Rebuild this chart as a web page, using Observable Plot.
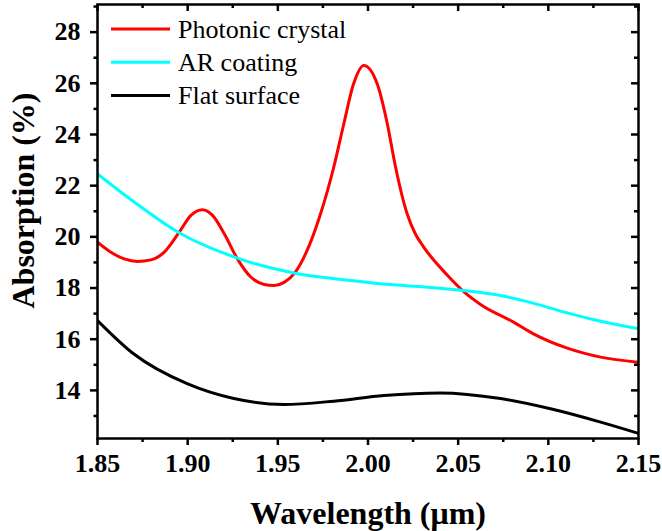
<!DOCTYPE html>
<html>
<head>
<meta charset="utf-8">
<script src="https://cdn.jsdelivr.net/npm/d3@7"></script>
<script src="https://cdn.jsdelivr.net/npm/@observablehq/plot@0.6"></script>
<style>
  html, body { margin: 0; padding: 0; background: #fff; }
  svg { display: block; }
  svg text { font-family: "Liberation Serif", "Times New Roman", serif; }
</style>
</head>
<body>
<div id="chart"></div>
<script>
// Series names and colours
const seriesNames = ["Photonic crystal", "AR coating", "Flat surface"];
const seriesColors = ["#ff0000", "#00ffff", "#000000"];

// Photonic crystal
const pcW = [1.85, 1.8574, 1.8648, 1.8722, 1.8796, 1.887, 1.8953, 1.9018, 1.9082, 1.9138, 1.9203, 1.9276, 1.935, 1.9424, 1.948, 1.9535, 1.9595, 1.9655, 1.9737, 1.981, 1.9866, 1.992, 1.9977, 2.0051, 2.0107, 2.0153, 2.0217, 2.026, 2.0309, 2.0439, 2.0531, 2.0624, 2.0809, 2.092, 2.1105, 2.129, 2.15];
const pcA = [19.79, 19.40, 19.14, 19.04, 19.10, 19.40, 20.18, 20.84, 21.06, 20.84, 20.12, 19.14, 18.43, 18.14, 18.10, 18.22, 18.6, 19.35, 20.9, 22.72, 24.42, 25.98, 26.70, 25.98, 24.42, 22.72, 20.9, 20.15, 19.6, 18.51, 17.86, 17.36, 16.66, 16.2, 15.65, 15.3, 15.1];

// AR coating
const arW = [1.85, 1.87, 1.895, 1.928, 1.961, 1.99, 2.007, 2.03, 2.053, 2.0735, 2.092, 2.1105, 2.129, 2.15];
const arA = [22.46, 21.38, 20.17, 19.16, 18.56, 18.3, 18.17, 18.05, 17.9, 17.71, 17.4, 17.03, 16.7, 16.41];

// Flat surface
const flW = [1.85, 1.87, 1.8997, 1.9256, 1.9533, 1.981, 2.0088, 2.04, 2.0735, 2.1012, 2.129, 2.15];
const flA = [16.73, 15.43, 14.26, 13.68, 13.45, 13.58, 13.8, 13.9, 13.68, 13.28, 12.76, 12.32];

// Axes
const xDomain = [1.85, 2.15];
const yDomain = [12.12, 29.08];
const xMajor = [1.85, 1.90, 1.95, 2.00, 2.05, 2.10, 2.15];
const xMinor = [1.875, 1.925, 1.975, 2.025, 2.075, 2.125];
const yMajor = [14, 16, 18, 20, 22, 24, 26, 28];
const yMinor = [13, 15, 17, 19, 21, 23, 25, 27, 29];
const xLabel = "Wavelength (μm)";
const yLabel = "Absorption (%)";

const rows = [];
[[pcW, pcA], [arW, arA], [flW, flA]].forEach(([w, a], s) => {
  w.forEach((x, i) => rows.push({series: seriesNames[s], w: x, a: a[i]}));
});

const W = 662, H = 531;
const mL = 97, mR = 24, mT = 4, mB = 93;
const ph = H - mT - mB, pw = W - mL - mR;
const serif = "Liberation Serif, Times New Roman, serif";

function legend(index, scales, values, dims) {
  const g = d3.create("svg:g");
  seriesNames.forEach((name, i) => {
    const y = dims.marginTop + 25 + i * 33.3;
    g.append("line")
      .attr("x1", dims.marginLeft + 14).attr("x2", dims.marginLeft + 73)
      .attr("y1", y).attr("y2", y)
      .attr("stroke", seriesColors[i]).attr("stroke-width", 3);
    g.append("text")
      .attr("x", dims.marginLeft + 81).attr("y", y + 8.5)
      .attr("text-anchor", "start")
      .attr("font-family", serif).attr("font-size", 26)
      .attr("fill", "#000")
      .text(name);
  });
  return g.node();
}

const chart = Plot.plot({
  width: W, height: H,
  marginLeft: mL, marginRight: mR, marginTop: mT, marginBottom: mB,
  style: {fontFamily: serif, background: "#fff", overflow: "visible"},
  x: {domain: xDomain},
  y: {domain: yDomain},
  color: {domain: seriesNames, range: seriesColors},
  marks: [
    Plot.line(rows, {x: "w", y: "a", z: "series", stroke: "series", strokeWidth: 3, curve: "monotone-x", clip: true}),
    // bottom axis
    Plot.axisX({ticks: xMajor, tickSize: 7, tickPadding: 8, tickFormat: d3.format(".2f"),
      fontSize: 26, fontWeight: "bold", fontFamily: serif, strokeWidth: 2.5,
      label: xLabel, labelAnchor: "center", labelArrow: false, labelOffset: 85}),
    Plot.axisX({ticks: xMinor, tickSize: 4, text: null, strokeWidth: 2.5, label: null}),
    // left axis
    Plot.axisY({ticks: yMajor, tickSize: 7, tickPadding: 10, tickFormat: d3.format("d"),
      fontSize: 26, fontWeight: "bold", fontFamily: serif, strokeWidth: 2.5, label: null}),
    Plot.axisY({ticks: yMinor, tickSize: 3.5, text: null, strokeWidth: 2.5, label: null}),
    Plot.text([yLabel], {frameAnchor: "left", text: d => d, rotate: -90, textAnchor: "middle", lineAnchor: "middle",
      dx: -74, dy: -21, fontSize: 32, fontWeight: "bold", fontFamily: serif, fill: "#000"}),
    // top & right inward ticks
    Plot.tickX(xMajor, {x: d => d, insetBottom: ph - 7, strokeWidth: 2.5}),
    Plot.tickX(xMinor, {x: d => d, insetBottom: ph - 4, strokeWidth: 2.5}),
    Plot.tickY(yMajor, {y: d => d, insetLeft: pw - 7, strokeWidth: 2.5}),
    Plot.tickY(yMinor, {y: d => d, insetLeft: pw - 4, strokeWidth: 2.5}),
    Plot.frame({stroke: "#000", strokeWidth: 2.5}),
    legend
  ]
});

// bold x-axis title
d3.select(chart).selectAll("g[aria-label='x-axis label'] text")
  .attr("font-size", 32).attr("font-weight", "bold").attr("font-family", serif);

document.getElementById("chart").appendChild(chart);
</script>
</body>
</html>
